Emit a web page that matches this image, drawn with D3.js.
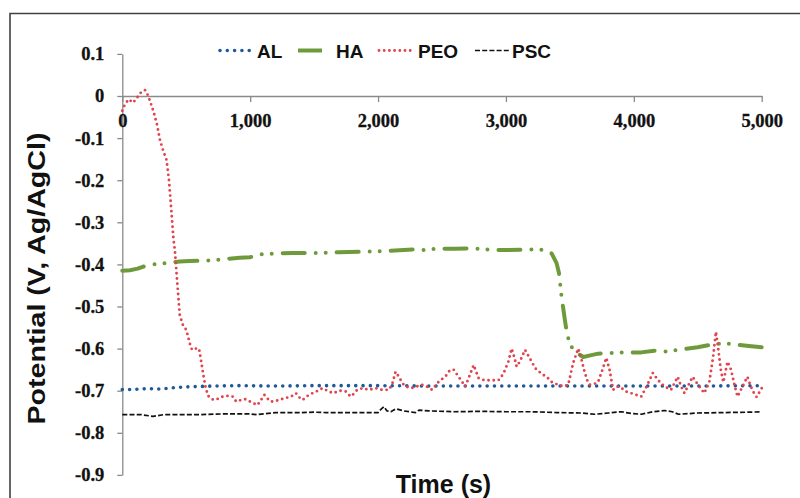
<!DOCTYPE html>
<html>
<head>
<meta charset="utf-8">
<script src="https://cdn.jsdelivr.net/npm/d3@7/dist/d3.min.js"></script>
<style>
  html, body { margin: 0; padding: 0; background: #fff; }
  svg { display: block; }
</style>
</head>
<body>
<svg id="chart" width="800" height="498"></svg>
<script>
// Open circuit potential vs time for four coatings
const seriesNames = ["AL", "HA", "PEO", "PSC"];

const alData = [
  [0,-0.697],[100,-0.697],[200,-0.695],[300,-0.696],[400,-0.693],[500,-0.691],
  [700,-0.689],[900,-0.688],[1200,-0.689],[1500,-0.688],[2000,-0.688],[2500,-0.689],
  [3000,-0.689],[3500,-0.689],[4000,-0.689],[4500,-0.689],[5000,-0.688]
];

const haData = [
  [0,-0.415],[60,-0.414],[120,-0.41],[164,-0.405],[250,-0.4],[372,-0.396],[450,-0.393],
  [527,-0.392],[650,-0.391],[780,-0.388],[918,-0.384],[1000,-0.383],[1072,-0.376],
  [1200,-0.374],[1332,-0.373],[1540,-0.373],[1700,-0.371],[1851,-0.37],[1903,-0.37],
  [2050,-0.368],[2200,-0.366],[2300,-0.364],[2344,-0.366],[2400,-0.364],[2500,-0.363],
  [2600,-0.363],[2734,-0.362],[2800,-0.363],[2890,-0.366],[3000,-0.366],[3150,-0.365],
  [3250,-0.364],[3305,-0.366],[3357,-0.374],[3396,-0.397],[3415,-0.421],[3435,-0.477],
  [3461,-0.532],[3475,-0.56],[3500,-0.591],[3540,-0.607],[3604,-0.62],[3660,-0.616],
  [3720,-0.612],[3785,-0.611],[3902,-0.609],[4058,-0.609],[4160,-0.605],[4265,-0.607],
  [4369,-0.602],[4499,-0.597],[4600,-0.591],[4707,-0.587],[4811,-0.591],[4900,-0.594],
  [5000,-0.597]
];

const peoData = [
  [0,-0.035],[20,-0.02],[50,-0.008],[85,-0.016],[115,-0.004],[150,0.01],[178,0.014],
  [200,0.002],[220,-0.015],[245,-0.038],[270,-0.066],[295,-0.105],[320,-0.13],[346,-0.152],
  [365,-0.2],[385,-0.278],[400,-0.34],[411,-0.366],[424,-0.42],[449,-0.52],[475,-0.545],
  [501,-0.556],[530,-0.59],[545,-0.603],[570,-0.6],[600,-0.6],[615,-0.627],[635,-0.665],
  [650,-0.69],[670,-0.712],[700,-0.72],[722,-0.722],[760,-0.718],[785,-0.714],[830,-0.712],
  [863,-0.714],[891,-0.726],[930,-0.722],[960,-0.72],[1020,-0.729],[1057,-0.734],
  [1085,-0.722],[1111,-0.71],[1140,-0.72],[1163,-0.726],[1200,-0.724],[1228,-0.722],
  [1270,-0.718],[1319,-0.714],[1358,-0.706],[1384,-0.716],[1410,-0.722],[1450,-0.712],
  [1487,-0.706],[1530,-0.7],[1565,-0.694],[1590,-0.698],[1617,-0.702],[1650,-0.706],
  [1700,-0.7],[1747,-0.702],[1786,-0.714],[1815,-0.706],[1837,-0.698],[1880,-0.694],
  [1930,-0.698],[1981,-0.694],[2031,-0.698],[2085,-0.698],[2110,-0.685],[2137,-0.655],
  [2163,-0.667],[2190,-0.682],[2215,-0.69],[2260,-0.694],[2300,-0.69],[2344,-0.686],
  [2380,-0.69],[2422,-0.698],[2470,-0.68],[2530,-0.665],[2560,-0.652],[2591,-0.65],
  [2630,-0.667],[2682,-0.69],[2715,-0.665],[2747,-0.639],[2786,-0.67],[2830,-0.675],
  [2900,-0.675],[2942,-0.675],[2980,-0.66],[3019,-0.631],[3045,-0.6],[3065,-0.62],
  [3084,-0.643],[3110,-0.63],[3149,-0.603],[3190,-0.625],[3230,-0.647],[3280,-0.66],
  [3318,-0.667],[3360,-0.68],[3409,-0.686],[3450,-0.69],[3487,-0.686],[3526,-0.634],
  [3565,-0.6],[3590,-0.625],[3610,-0.65],[3635,-0.675],[3656,-0.686],[3690,-0.684],
  [3720,-0.68],[3755,-0.65],[3785,-0.622],[3810,-0.65],[3838,-0.698],[3870,-0.69],
  [3910,-0.695],[3940,-0.702],[3980,-0.706],[4020,-0.71],[4058,-0.714],[4100,-0.69],
  [4149,-0.658],[4190,-0.675],[4240,-0.69],[4291,-0.698],[4343,-0.667],[4370,-0.69],
  [4396,-0.706],[4430,-0.685],[4460,-0.667],[4500,-0.685],[4551,-0.706],[4590,-0.68],
  [4620,-0.62],[4642,-0.56],[4660,-0.6],[4680,-0.65],[4700,-0.68],[4733,-0.631],
  [4760,-0.65],[4790,-0.69],[4811,-0.714],[4850,-0.69],[4888,-0.667],[4915,-0.69],
  [4940,-0.706],[4960,-0.715],[5000,-0.694]
];

const pscData = [
  [0,-0.757],[150,-0.757],[240,-0.761],[320,-0.757],[600,-0.757],[800,-0.755],
  [1000,-0.755],[1050,-0.757],[1200,-0.752],[1400,-0.752],[1500,-0.751],[1600,-0.752],
  [1800,-0.752],[2000,-0.752],[2020,-0.745],[2046,-0.738],[2070,-0.748],[2100,-0.75],
  [2140,-0.743],[2200,-0.748],[2293,-0.752],[2320,-0.746],[2400,-0.748],[2600,-0.75],
  [2800,-0.749],[3000,-0.75],[3200,-0.75],[3400,-0.752],[3600,-0.753],[3694,-0.756],
  [3800,-0.753],[3900,-0.75],[3980,-0.754],[4058,-0.756],[4150,-0.75],[4240,-0.747],
  [4300,-0.75],[4350,-0.756],[4500,-0.753],[4700,-0.752],[4900,-0.751],[5000,-0.75]
];

const xTicks = [0, 1000, 2000, 3000, 4000, 5000];
const yTicks = [0.1, 0, -0.1, -0.2, -0.3, -0.4, -0.5, -0.6, -0.7, -0.8, -0.9];

const svg = d3.select("#chart");

// outer frame (top and left edges)
svg.append("path")
  .attr("d", "M10,498 V13.5 H800")
  .attr("fill", "none")
  .attr("stroke", "#404040")
  .attr("stroke-width", 1.6);

const x = d3.scaleLinear().domain([0, 5000]).range([122.3, 761.7]);
const y = d3.scaleLinear().domain([-0.9, 0.1]).range([474.9, 53.9]);

const tickFont = "'Liberation Serif', 'Times New Roman', serif";
const axisColor = "#8a8a8a";

// y axis
const yAxis = svg.append("g")
  .attr("transform", `translate(${x(0)},0)`)
  .call(d3.axisLeft(y)
    .tickValues(yTicks)
    .tickSize(5)
    .tickSizeOuter(0)
    .tickPadding(13)
    .tickFormat(v => Math.abs(v) < 1e-9 ? "0" : d3.format(".1f")(v).replace("\u2212", "-")));

// x axis across y = 0
const xAxis = svg.append("g")
  .attr("transform", `translate(0,${y(0)})`)
  .call(d3.axisBottom(x)
    .tickValues(xTicks)
    .tickSize(6)
    .tickSizeOuter(0)
    .tickPadding(12)
    .tickFormat(d3.format(",")));

[xAxis, yAxis].forEach(g => {
  g.select(".domain").attr("stroke", axisColor).attr("stroke-width", 1.3);
  g.selectAll(".tick line").attr("stroke", axisColor).attr("stroke-width", 1.3);
  g.selectAll(".tick text")
    .attr("fill", "#111")
    .attr("stroke", "#111")
    .attr("stroke-width", 0.3)
    .style("font-family", tickFont)
    .style("font-weight", "bold")
    .style("font-size", "18.5px");
});

// series
const styles = {
  AL:  { color: "#1f5a96", width: 3.6, dash: "0 7.3", cap: "round" },
  HA:  { color: "#6f9a3c", width: 4, dash: "22 11 0 10 0 11", cap: "round" },
  PEO: { color: "#e0444c", width: 2.9, dash: "0 5.2", cap: "round" },
  PSC: { color: "#111111", width: 1.7, dash: "5 2.2", cap: "butt" }
};
const seriesData = { AL: alData, HA: haData, PEO: peoData, PSC: pscData };

const line = d3.line().x(d => x(d[0])).y(d => y(d[1]));

seriesNames.forEach(name => {
  const s = styles[name];
  svg.append("path")
    .datum(seriesData[name])
    .attr("d", line)
    .attr("fill", "none")
    .attr("stroke", s.color)
    .attr("stroke-width", s.width)
    .attr("stroke-dasharray", s.dash)
    .attr("stroke-linecap", s.cap)
    .attr("stroke-linejoin", "round");
});

// legend
const legendItems = [
  { name: "AL",  x1: 220, x2: 252, tx: 257 },
  { name: "HA",  x1: 298, x2: 322, tx: 336 },
  { name: "PEO", x1: 379, x2: 415, tx: 418 },
  { name: "PSC", x1: 475, x2: 510, tx: 512 }
];
const legendY = 50.5;
legendItems.forEach(it => {
  const s = styles[it.name];
  svg.append("line")
    .attr("x1", it.x1).attr("x2", it.x2)
    .attr("y1", legendY).attr("y2", legendY)
    .attr("stroke", s.color)
    .attr("stroke-width", it.name === "HA" ? 4 : s.width)
    .attr("stroke-dasharray", it.name === "HA" ? null : s.dash)
    .attr("stroke-linecap", it.name === "HA" ? "butt" : s.cap);
  svg.append("text")
    .attr("x", it.tx).attr("y", legendY + 7.5)
    .attr("fill", "#111")
    .style("font-family", "'Liberation Sans', Arial, sans-serif")
    .style("font-weight", "bold")
    .style("font-size", "19px")
    .text(it.name);
});

// axis titles
svg.append("text")
  .attr("x", 443.5).attr("y", 493)
  .attr("text-anchor", "middle")
  .attr("fill", "#111")
  .style("font-family", "'Liberation Sans', Arial, sans-serif")
  .style("font-weight", "bold")
  .style("font-size", "25px")
  .text("Time (s)");

svg.append("text")
  .attr("transform", "translate(45,278.5) rotate(-90)")
  .attr("text-anchor", "middle")
  .attr("fill", "#111")
  .attr("textLength", 292)
  .attr("lengthAdjust", "spacingAndGlyphs")
  .style("font-family", "'Liberation Sans', Arial, sans-serif")
  .style("font-weight", "bold")
  .style("font-size", "23px")
  .text("Potential (V, Ag/AgCl)");
</script>
</body>
</html>
